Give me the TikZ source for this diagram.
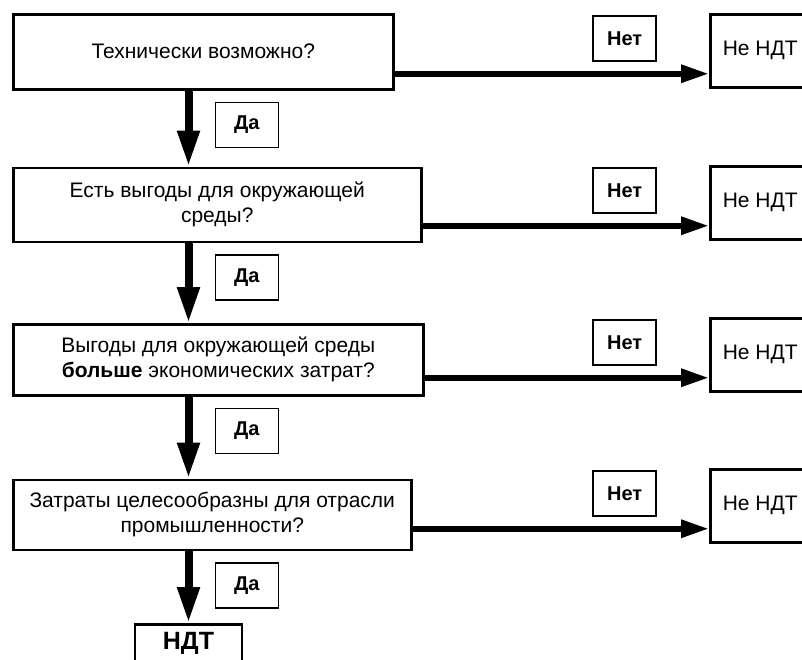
\documentclass[tikz,border=0pt]{standalone}
\usepackage{fontspec}
\setmainfont{Liberation Sans}
\usetikzlibrary{arrows.meta, positioning}

\begin{document}
\begin{tikzpicture}[x=1pt, y=-1pt,
     font = \fontsize{21}{25}\selectfont,
     base/.style = {draw, line width=2.5pt, align=center, inner sep=0pt},
 question/.style = {base, anchor=north west},
   result/.style = {base, minimum width=100pt, minimum height=73pt, anchor=north west},
   answer/.style = {base, line width=1.8pt, minimum width=63pt, minimum height=45pt,
                    font=\fontsize{20}{24}\selectfont\bfseries},
     best/.style = {base, anchor=north, minimum width=107pt, text height=18pt,
                    text depth=24pt, inner ysep=7pt,
                    font=\fontsize{25}{30}\selectfont\bfseries},
      yes/.style = {line width=8pt, -{Triangle[length=36pt, width=21pt]}},
       no/.style = {line width=6pt, -{Triangle[length=28pt, width=17pt]}}
                    ]
\useasboundingbox (0,0) rectangle (802,659);
\clip (0,0) rectangle (802,659);
 % questions
\node (q1) [question, minimum width=380pt, minimum height=75pt] at (12,13) {Технически возможно?};
\node (q2) [question, minimum width=408pt, minimum height=74pt, below=76pt of q1.south west, anchor=north west]
           {Есть выгоды для окружающей\\среды?};
\node (q3) [question, minimum width=410pt, minimum height=71pt, below=80pt of q2.south west, anchor=north west]
           {Выгоды для окружающей среды\\\textbf{больше} экономических затрат?};
\node (q4) [question, minimum width=398pt, minimum height=70pt, below=82pt of q3.south west, anchor=north west]
           {Затраты целесообразны для отрасли\\промышленности?};
\node (ndt) [best] at (188.5,623) {НДТ};
 % outcomes on the right
\node (n1) [result] at (709,13)  {Не НДТ};
\node (n2) [result] at (709,165) {Не НДТ};
\node (n3) [result] at (709,317) {Не НДТ};
\node (n4) [result] at (709,468) {Не НДТ};

 % yes branch
\foreach \a/\b [count=\i] in {q1/q2, q2/q3, q3/q4, q4/ndt}{
  \coordinate (s\i) at (\a.south -| ndt);
  \draw[yes] (s\i) -- (s\i |- \b.north);
  \node (y\i) [answer, below right=11pt and 26pt of s\i] {Да};
}
 % no branch
\foreach \i in {1,...,4}{
  \coordinate (e\i) at ([yshift=-23pt]n\i.west);
  \draw[no] (e\i -| q\i.east) -- (e\i);
  \node (no\i) [answer, above left=12pt and 52pt of e\i] {Нет};
}
\end{tikzpicture}
\end{document}
